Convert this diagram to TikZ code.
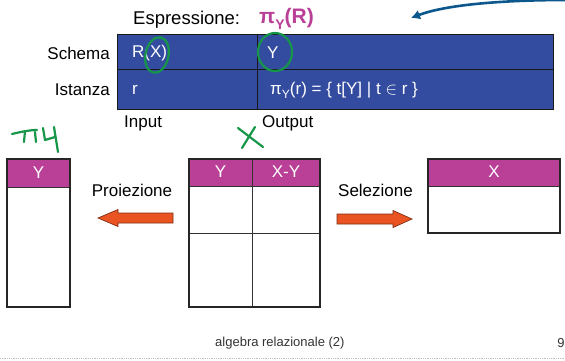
\documentclass[tikz,border=0pt]{standalone}
\usepackage{fontspec}
\setmainfont{Liberation Sans}
\usetikzlibrary{arrows.meta}
\definecolor{cellblue}{RGB}{52,76,160}
\definecolor{headpink}{RGB}{185,64,150}
\definecolor{arrorange}{RGB}{234,84,34}
\definecolor{pengreen}{RGB}{22,150,72}
\definecolor{penblue}{RGB}{12,88,140}

\begin{document}
\begin{tikzpicture}[x=1pt, y=-1pt,
	txt/.style={font=\fontsize{17}{20}\selectfont, inner sep=0pt},
	wtxt/.style={txt, text=white},
	foot/.style={font=\fontsize{13}{15}\selectfont, inner sep=0pt},
	tablebox/.style={line width=1.8pt, black!85},
	thinline/.style={line width=0.9pt, black!80},
	blockarrow/.style={fill=arrorange, draw=arrorange!55!black, line width=0.7pt},
	pen/.style={pengreen, line width=2.2pt, line cap=round, line join=round}]
			%%%%% START %%%%%
			\useasboundingbox (0,0) rectangle (565,360);
			
			% top table
			\fill[cellblue] (117,34) rectangle (553,109);
			\draw[thinline, black!90] (117,34) rectangle (553,109);
			\draw[thinline, black!90] (117,69) -- (553,69);
			\draw[thinline, black!90] (257,34) -- (257,109);
			
			\node[txt, anchor=west, font=\fontsize{18.5}{22}\selectfont] (espr) at (133,20) {Espressione:};
			\node[anchor=west, inner sep=0pt, text=headpink, font=\fontsize{21}{24}\selectfont\bfseries] (exprpi) at (259,19) {π\raisebox{-0.25em}{\fontsize{14}{16}\selectfont Y}(R)};
			\node[txt, anchor=east] (schema) at (110,53) {Schema};
			\node[txt, anchor=east] (istanza) at (110,90) {Istanza};
			\node[wtxt, anchor=west] (rx) at (132,53) {R(X)};
			\node[wtxt, anchor=west] (outy) at (267,53) {Y};
			\node[wtxt, anchor=west] (rr) at (132,90) {r};
			\node[wtxt, anchor=west] (outr) at (270,90) {π\raisebox{-0.25em}{\fontsize{12}{14}\selectfont Y}(r) = \{ t[Y] | t $\in$ r \}};
			\node[txt, anchor=west] (input) at (124,123) {Input};
			\node[txt, anchor=west] (output) at (262,123) {Output};
			
			% left table: projection
			\fill[headpink] (7,159) rectangle (70,187);
			\draw[thinline] (7,187) -- (70,187);
			\draw[tablebox] (7,159) rectangle (70,307);
			\node[wtxt] (ly) at (38.5,173) {Y};
			
			% middle table
			\fill[headpink] (189,159) rectangle (320,186);
			\draw[thinline] (189,186) -- (320,186);
			\draw[thinline] (189,233) -- (320,233);
			\draw[thinline] (252,159) -- (252,307);
			\draw[tablebox] (189,159) rectangle (320,307);
			\node[wtxt] (my) at (220.5,172) {Y};
			\node[wtxt] (mxy) at (286,172) {X-Y};
			
			% right table: selection
			\fill[headpink] (428,159) rectangle (560,186);
			\draw[thinline] (428,186) -- (560,186);
			\draw[tablebox] (428,159) rectangle (560,233);
			\node[wtxt] (rxh) at (494,172) {X};
			
			% arrows
			\node[txt] (proj) at (132,190) {Proiezione};
			\draw[blockarrow] (173,213) -- (118,213) -- (118,209.5) -- (98,218) -- (118,226.5) -- (118,223) -- (173,223) -- cycle;
			\node[txt] (sel) at (375.5,190) {Selezione};
			\draw[blockarrow] (337,214) -- (393,214) -- (393,210.5) -- (412,219) -- (393,227.5) -- (393,224) -- (337,224) -- cycle;
			
			% pen marks
			\draw[pen, rotate around={-12:(157,55)}] (157,55) ellipse [x radius=11.5, y radius=18];
			\draw[pen] (275,52) ellipse [x radius=17, y radius=19];
			\draw[pen] (12,134) .. controls (20,132) and (30,130) .. (37,130);
			\draw[pen] (25,131) -- (24,142);
			\draw[pen] (35,132) -- (36,142);
			\draw[pen] (43,128) -- (45,140) -- (55,137);
			\draw[pen] (54,127) -- (58,152);
			\draw[pen] (238,128) -- (263,147);
			\draw[pen] (255,127) -- (242,148);
			
			\coordinate (penstart) at (568,0);
			\coordinate (pentip) at (411,18);
			\draw[penblue, line width=2.6pt, line cap=round, -{Latex[length=9pt,width=10pt]}] (penstart) .. controls (500,0) and (445,5) .. (pentip);
			
			% footer
			\node[foot, text=black!80, anchor=west] (footer) at (215,343) {algebra relazionale (2)};
			\node[foot, text=black!80] (pagenum) at (561,343) {9};
			\draw[black!25, densely dotted, line width=0.8pt] (0,358) -- (565,358);
			%%%%% END %%%%%
\end{tikzpicture}
\end{document}
